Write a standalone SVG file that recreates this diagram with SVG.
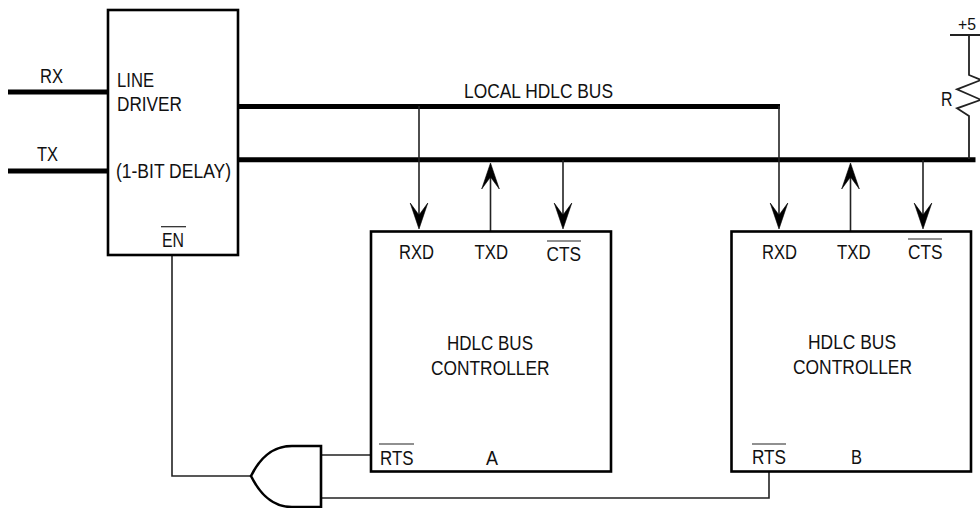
<svg xmlns="http://www.w3.org/2000/svg" width="980" height="508" viewBox="0 0 980 508">
<style>
text{font-family:"Liberation Sans",Arial,sans-serif;font-size:20.500px;fill:#111}
.box{fill:#fff;stroke:#000;stroke-width:2.600}
.bus{fill:none;stroke:#000;stroke-width:5}
.wire{fill:none;stroke:#222;stroke-width:1.600}
.over{stroke:#222;stroke-width:1.200}
.head{fill:#000;stroke:#000;stroke-width:0.600}
</style>
<defs>
<path id="down" class="head" d="M0 0L-8.800 -26L0 -14L8.800 -26Z"/>
<path id="up" class="head" d="M0 0L-8.800 26L0 14L8.800 26Z"/>
</defs>
<g id="connectors">
<path class="bus" d="M8 92H108M8 171H108M238 106.500H780M238 159.800H975.500"/>
<path class="wire" d="M419 106V217M490.500 170V232M563 160V217M779 106V217M850.500 170V232M923 160V217"/>
<use href="#down" x="419" y="229"/>
<use href="#down" x="563" y="229"/>
<use href="#down" x="779" y="229"/>
<use href="#down" x="923" y="229"/>
<use href="#up" x="490.500" y="163"/>
<use href="#up" x="850.500" y="163"/>
<path class="wire" d="M172 255V476H251M321 455H371M321 498H769V471"/>
<path class="wire" style="stroke-width:1.800" d="M950 35H980M969 35V75L981 80L957 89.300L981 99.800L957 108.300L969 116V159"/>
</g>
<g id="line-driver">
<rect class="box" x="108" y="10" width="130" height="245"/>
<text x="117" y="87" textLength="37" lengthAdjust="spacingAndGlyphs">LINE</text>
<text x="117" y="111" textLength="65" lengthAdjust="spacingAndGlyphs">DRIVER</text>
<text x="116" y="178" textLength="115" lengthAdjust="spacingAndGlyphs">(1-BIT DELAY)</text>
<text x="162" y="246.500" textLength="22" lengthAdjust="spacingAndGlyphs">EN</text>
<line class="over" x1="161" y1="226.700" x2="186" y2="226.700"/>
</g>
<g id="controller-a">
<rect class="box" x="371" y="231.500" width="240" height="240"/>
<text x="399" y="259" textLength="35" lengthAdjust="spacingAndGlyphs">RXD</text>
<text x="474.500" y="259" textLength="33.500" lengthAdjust="spacingAndGlyphs">TXD</text>
<text x="546.500" y="261" textLength="34.500" lengthAdjust="spacingAndGlyphs">CTS</text>
<line class="over" x1="547" y1="241" x2="581" y2="241"/>
<text x="447" y="350" textLength="86" lengthAdjust="spacingAndGlyphs">HDLC BUS</text>
<text x="431" y="375" textLength="118.500" lengthAdjust="spacingAndGlyphs">CONTROLLER</text>
<text x="380" y="465" textLength="33.500" lengthAdjust="spacingAndGlyphs">RTS</text>
<line class="over" x1="379" y1="444" x2="414" y2="444"/>
<text x="486" y="465" textLength="12" lengthAdjust="spacingAndGlyphs">A</text>
</g>
<g id="controller-b">
<rect class="box" x="731.500" y="231.500" width="239.500" height="240"/>
<text x="762" y="258.500" textLength="35" lengthAdjust="spacingAndGlyphs">RXD</text>
<text x="837" y="258.500" textLength="33.500" lengthAdjust="spacingAndGlyphs">TXD</text>
<text x="908" y="258.500" textLength="34.500" lengthAdjust="spacingAndGlyphs">CTS</text>
<line class="over" x1="908" y1="239" x2="942" y2="239"/>
<text x="808" y="349" textLength="88" lengthAdjust="spacingAndGlyphs">HDLC BUS</text>
<text x="793" y="373.500" textLength="119" lengthAdjust="spacingAndGlyphs">CONTROLLER</text>
<text x="752" y="464" textLength="34" lengthAdjust="spacingAndGlyphs">RTS</text>
<line class="over" x1="752" y1="444" x2="786" y2="444"/>
<text x="851" y="464" textLength="11" lengthAdjust="spacingAndGlyphs">B</text>
</g>
<g id="or-gate">
<path d="M321 446H292C272 446 260 458 251 476C260 494 272 507 292 507H321Z" fill="#fff" stroke="#000" stroke-width="2.600"/>
</g>
<g id="labels">
<text x="40" y="83" textLength="23" lengthAdjust="spacingAndGlyphs">RX</text>
<text x="37" y="160.500" textLength="21" lengthAdjust="spacingAndGlyphs">TX</text>
<text x="464" y="98" textLength="149" lengthAdjust="spacingAndGlyphs">LOCAL HDLC BUS</text>
<text x="958" y="30" textLength="18" lengthAdjust="spacingAndGlyphs" style="font-size:17px">+5</text>
<text x="941" y="106" textLength="11.500" lengthAdjust="spacingAndGlyphs">R</text>
</g>
</svg>
